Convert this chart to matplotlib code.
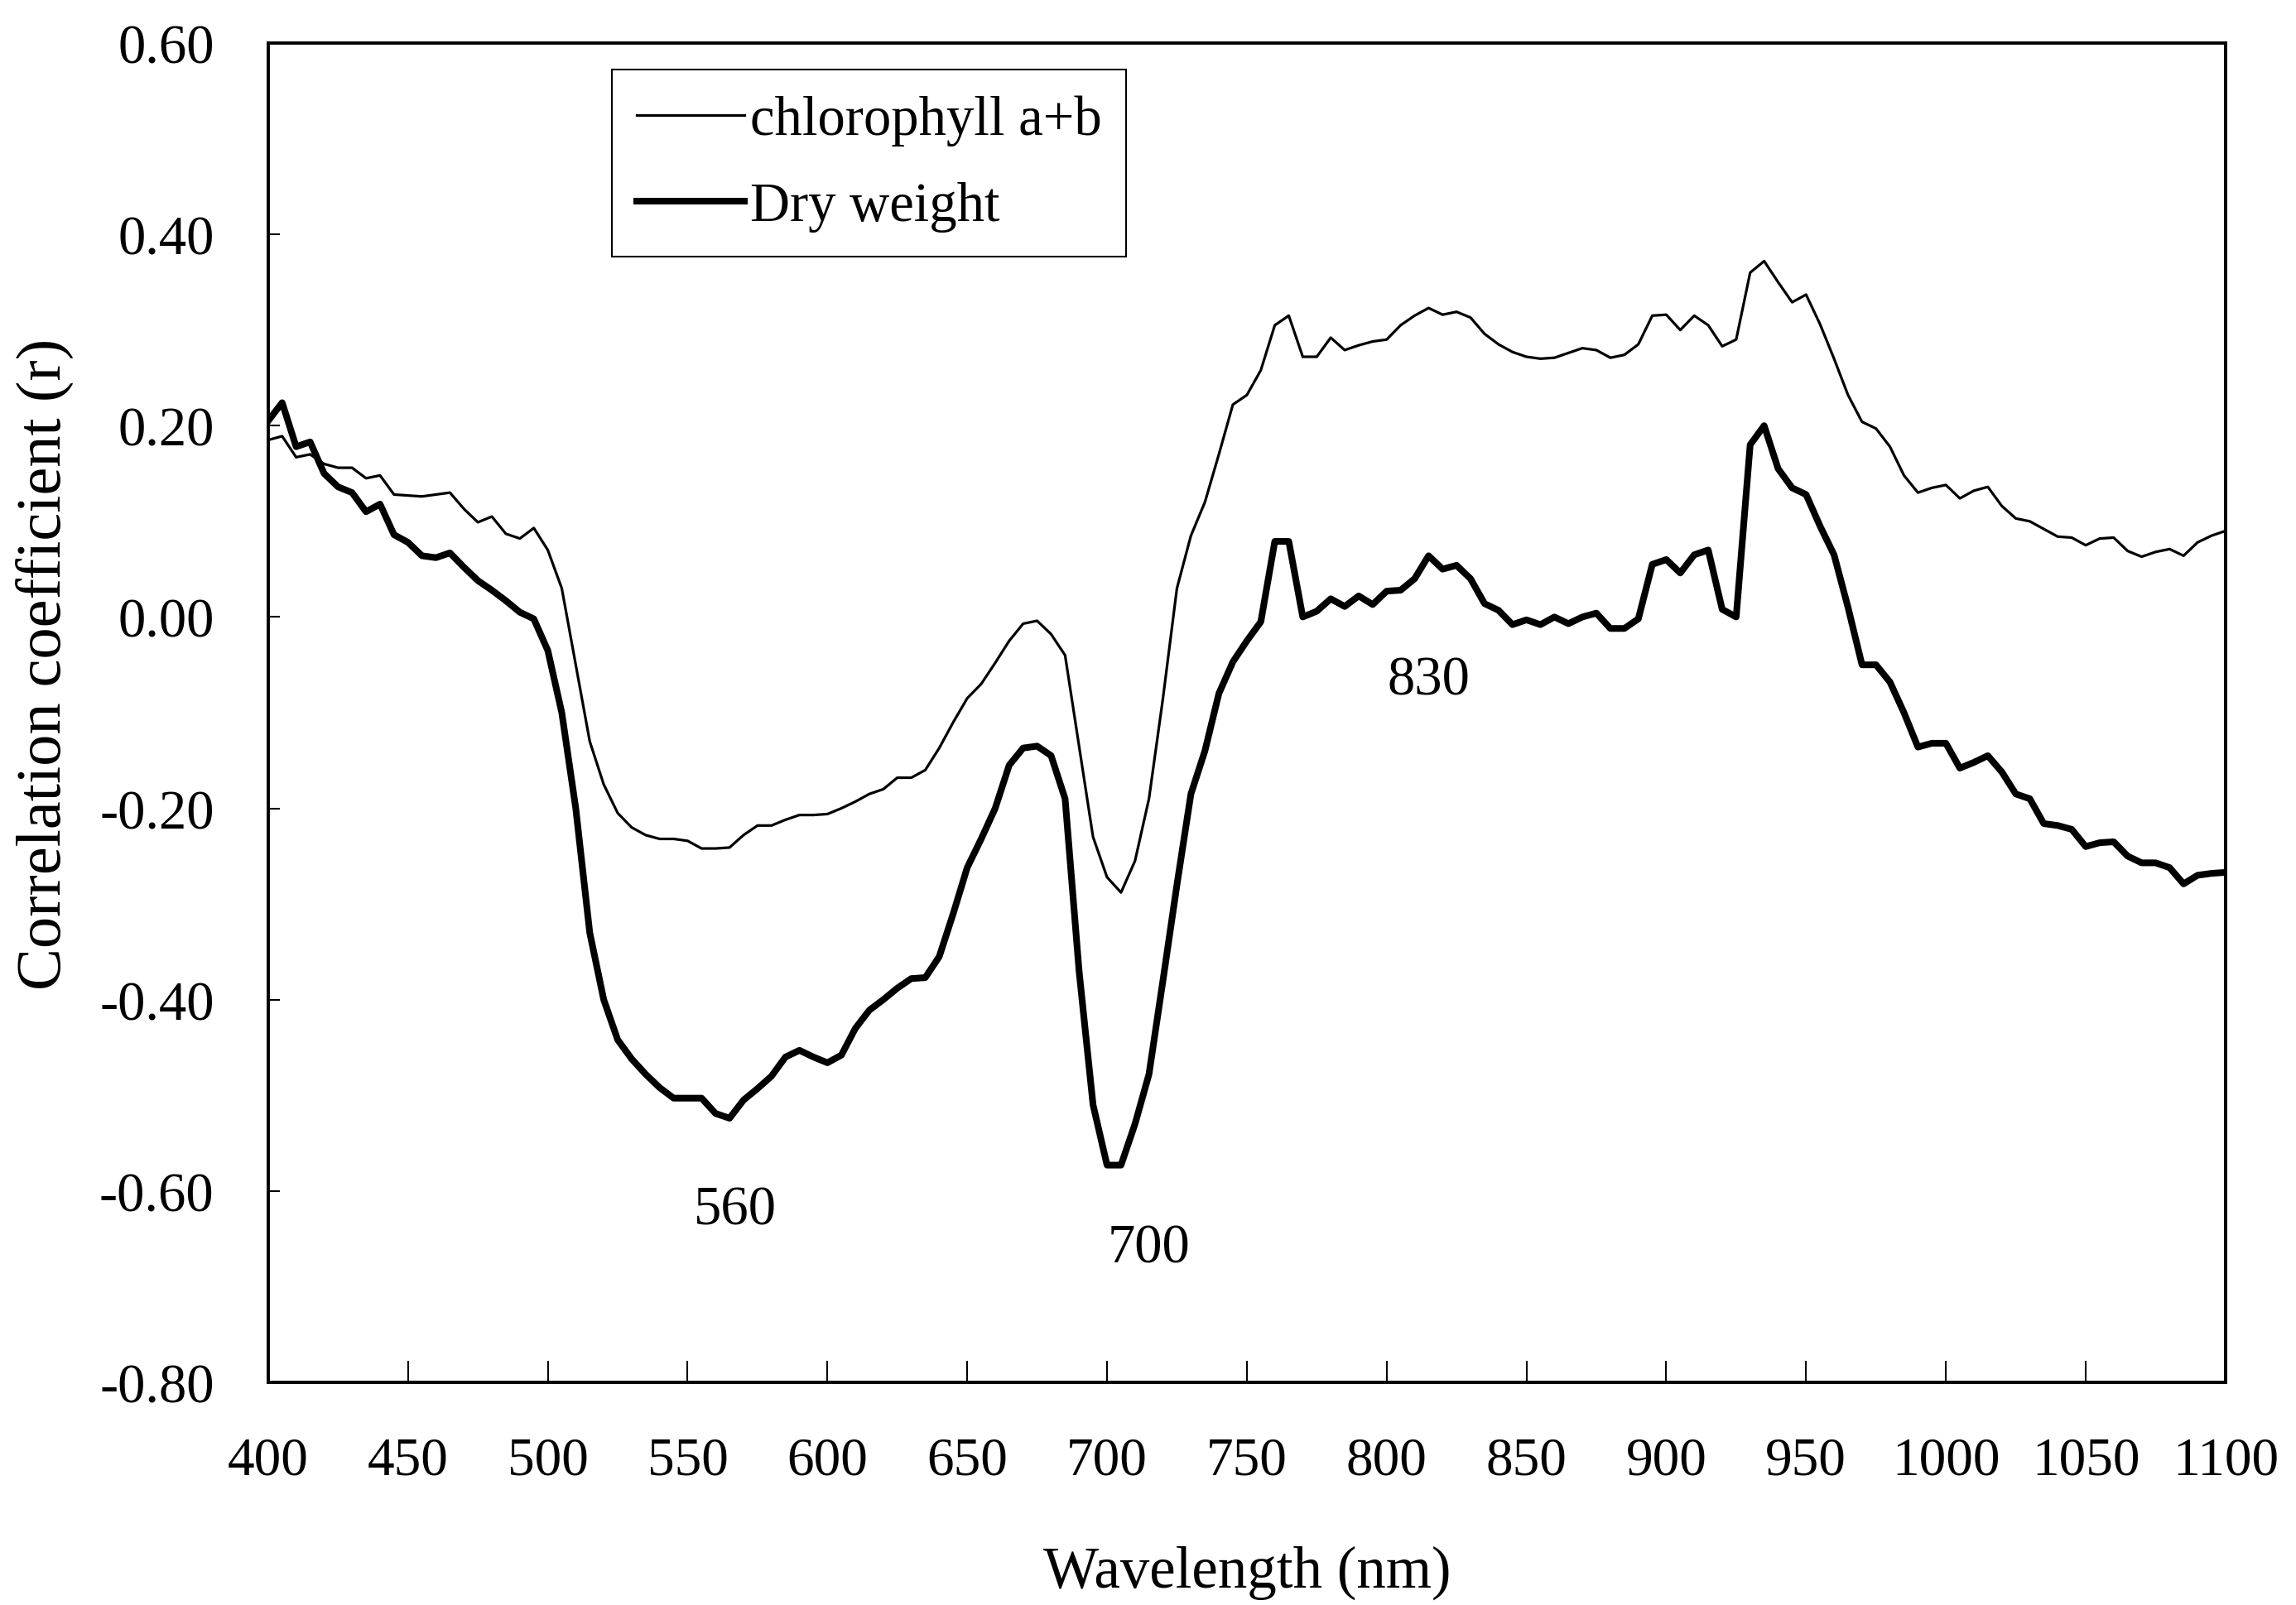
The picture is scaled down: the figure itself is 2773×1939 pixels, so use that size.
import numpy as np
import matplotlib.pyplot as plt

plt.rcParams['font.family'] = ['Liberation Serif', 'DejaVu Serif']
plt.rcParams['axes.unicode_minus'] = False

# wavelength grid (nm), 5 nm steps
wl = np.arange(400, 1101, 5)

# correlation with chlorophyll a+b
chl = [0.185, 0.189, 0.167, 0.170, 0.160, 0.156, 0.156, 0.145, 0.148, 0.128,
       0.127, 0.126, 0.128, 0.130, 0.113, 0.099, 0.105, 0.087, 0.082, 0.093,
       0.070, 0.030, -0.050, -0.130, -0.175, -0.205, -0.220, -0.228, -0.232, -0.232,
       -0.234, -0.242, -0.242, -0.241, -0.228, -0.218, -0.218, -0.212, -0.207, -0.207,
       -0.206, -0.200, -0.193, -0.185, -0.180, -0.168, -0.168, -0.160, -0.137, -0.110,
       -0.085, -0.070, -0.048, -0.025, -0.007, -0.004, -0.018, -0.040, -0.135, -0.230,
       -0.272, -0.288, -0.255, -0.190, -0.085, 0.030, 0.085, 0.120, 0.170, 0.222,
       0.232, 0.258, 0.305, 0.315, 0.272, 0.272, 0.292, 0.279, 0.284, 0.288,
       0.290, 0.305, 0.315, 0.323, 0.316, 0.319, 0.313, 0.296, 0.285, 0.277,
       0.272, 0.270, 0.271, 0.276, 0.281, 0.279, 0.271, 0.274, 0.285, 0.315,
       0.316, 0.300, 0.315, 0.305, 0.283, 0.290, 0.360, 0.372, 0.350, 0.329,
       0.337, 0.306, 0.270, 0.232, 0.204, 0.197, 0.178, 0.148, 0.130, 0.135,
       0.138, 0.124, 0.132, 0.136, 0.116, 0.103, 0.100, 0.092, 0.084, 0.083,
       0.075, 0.082, 0.083, 0.069, 0.063, 0.068, 0.071, 0.064, 0.078, 0.085,
       0.090]

# correlation with dry weight
dry = [0.205, 0.224, 0.178, 0.183, 0.150, 0.136, 0.130, 0.110, 0.118, 0.086,
       0.078, 0.064, 0.062, 0.067, 0.052, 0.038, 0.028, 0.017, 0.005, -0.002,
       -0.035, -0.100, -0.200, -0.330, -0.400, -0.442, -0.462, -0.478, -0.492, -0.503,
       -0.503, -0.503, -0.519, -0.524, -0.505, -0.493, -0.480, -0.460, -0.453, -0.460,
       -0.466, -0.458, -0.430, -0.411, -0.400, -0.388, -0.378, -0.377, -0.355, -0.310,
       -0.262, -0.232, -0.200, -0.155, -0.137, -0.135, -0.145, -0.190, -0.370, -0.510,
       -0.573, -0.573, -0.530, -0.478, -0.380, -0.280, -0.185, -0.140, -0.080, -0.047,
       -0.025, -0.005, 0.079, 0.079, 0.000, 0.006, 0.019, 0.011, 0.022, 0.013,
       0.027, 0.028, 0.040, 0.064, 0.050, 0.054, 0.040, 0.014, 0.007, -0.008,
       -0.003, -0.008, 0.000, -0.007, 0.000, 0.004, -0.012, -0.012, -0.002, 0.055,
       0.060, 0.046, 0.065, 0.070, 0.008, 0.000, 0.180, 0.200, 0.155, 0.135,
       0.128, 0.095, 0.065, 0.010, -0.050, -0.050, -0.068, -0.100, -0.136, -0.132,
       -0.132, -0.158, -0.152, -0.145, -0.162, -0.185, -0.190, -0.216, -0.218, -0.222,
       -0.240, -0.236, -0.235, -0.250, -0.257, -0.257, -0.262, -0.279, -0.270, -0.268,
       -0.267]

yticks = [-0.8, -0.6, -0.4, -0.2, 0.0, 0.2, 0.4, 0.6]
ylabels = ['-0.80', '-0.60', '-0.40', '-0.20', '0.00', '0.20', '0.40', '0.60']

peak_nm = [560, 700, 830]
peak_xy = [(567, -0.62), (715, -0.66), (815, -0.066)]

fig = plt.figure(figsize=(27.73, 19.40), dpi=100)
ax = fig.add_axes([0.1168, 0.1387, 0.8525, 0.834])

ax.plot(wl, chl, color='black', lw=2.3, label='chlorophyll a+b')
ax.plot(wl, dry, color='black', lw=5.8, label='Dry weight')

for nm, (x, y) in zip(peak_nm, peak_xy):
    ax.text(x, y, str(nm), fontsize=48, ha='center', va='center')

ax.set_xlim(400, 1100)
ax.set_ylim(-0.8, 0.6)
ax.set_xticks(np.arange(400, 1101, 50))
ax.set_yticks(yticks)
ax.set_yticklabels(ylabels)

ax.tick_params(axis='x', direction='in', length=19, width=1.5, pad=47, labelsize=47)
ax.tick_params(axis='y', direction='in', length=10, width=1.5, pad=47, labelsize=48)
for s in ax.spines.values():
    s.set_linewidth(2.8)

ax.set_xlabel('Wavelength (nm)', fontsize=51, labelpad=52)
ax.set_ylabel('Correlation coefficient (r)', fontsize=55)
ax.yaxis.set_label_coords(-0.099, 0.537)

leg = ax.legend(loc='upper left', bbox_to_anchor=(0.2665, 0.956),
                bbox_transform=fig.transFigure, fontsize=48, frameon=True,
                fancybox=False, edgecolor='black', framealpha=1,
                handlelength=1.95, handletextpad=0.1, labelspacing=0.65,
                borderpad=0.45, borderaxespad=0)
leg.get_frame().set_linewidth(1.5)

fig.savefig('out.png', dpi=100)
